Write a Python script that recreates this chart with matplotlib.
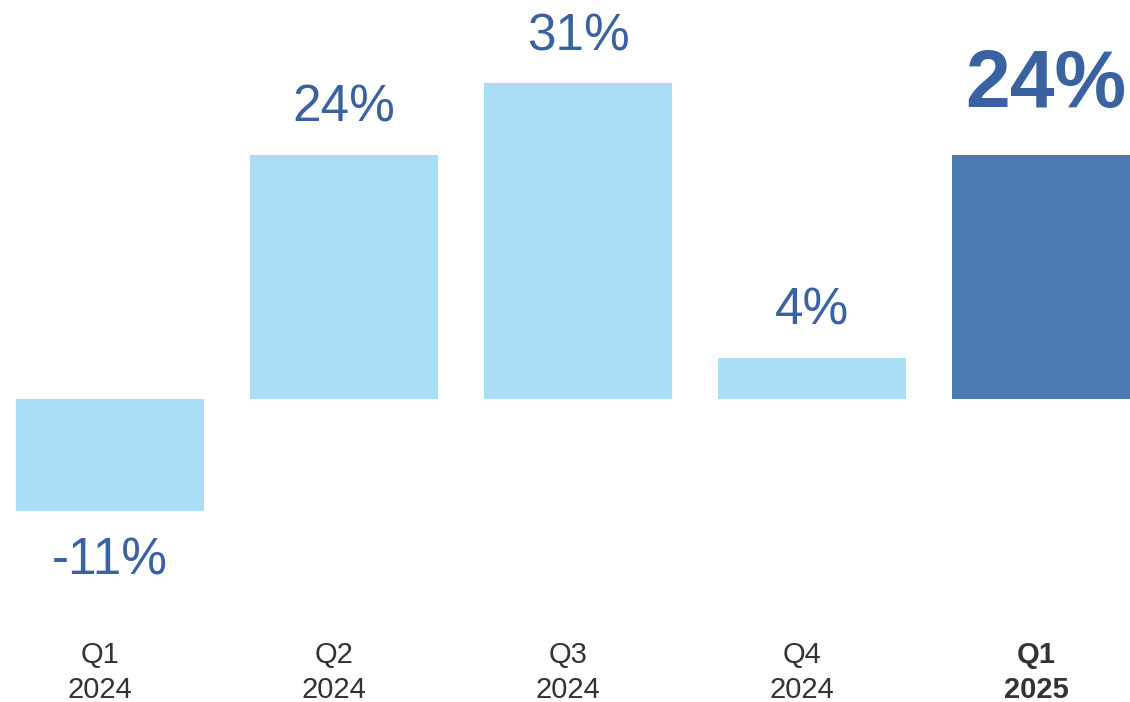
import matplotlib
matplotlib.use("Agg")
import matplotlib.pyplot as plt
import matplotlib.transforms as mtransforms

plt.rcParams['font.family'] = ['Liberation Sans', 'DejaVu Sans']

# Data
quarters = ['Q1\n2024', 'Q2\n2024', 'Q3\n2024', 'Q4\n2024', 'Q1\n2025']
growth = [-11, 24, 31, 4, 24]
labels = ['-11%', '24%', '31%', '4%', '24%']

light = '#A9DEF6'
dark = '#4A7AB0'
text_blue = '#3A62A0'
tick_grey = '#333333'

fig = plt.figure(figsize=(11.30, 7.02), dpi=100)
# axes from top of figure down to just above the tick labels
ax = fig.add_axes([0, 72 / 702, 1, 630 / 702])

x = list(range(len(growth)))
colors = [light] * 4 + [dark]
ax.bar(x, growth, width=0.803, color=colors, zorder=2)

ax.set_xlim(-0.470, 4.359)
ax.set_ylim(-22.7, 39.2)

for i, (v, lab) in enumerate(zip(growth, labels)):
    last = i == len(growth) - 1
    if v >= 0:
        off = 34 if last else 24
        ax.annotate(lab, (i, v), xytext=(0, off), textcoords='offset points',
                    ha='center', va='baseline', color=text_blue,
                    fontsize=58 if last else 37,
                    fontweight='bold' if last else 'normal')
    else:
        ax.annotate(lab, (i, v), xytext=(0, -46), textcoords='offset points',
                    ha='center', va='baseline', color=text_blue, fontsize=37)

ax.set_xticks(x)
ax.set_xticklabels(quarters, fontsize=21, color=tick_grey, linespacing=1.32)
ax.get_xticklabels()[-1].set_fontweight('bold')
ax.tick_params(axis='x', length=0, pad=8)
# category labels sit slightly left of the bar centres
shift = mtransforms.ScaledTranslation(-10 / 100, 0, fig.dpi_scale_trans)
for t in ax.get_xticklabels():
    t.set_transform(t.get_transform() + shift)
ax.set_yticks([])
for s in ax.spines.values():
    s.set_visible(False)

fig.savefig('out.png', dpi=100)
